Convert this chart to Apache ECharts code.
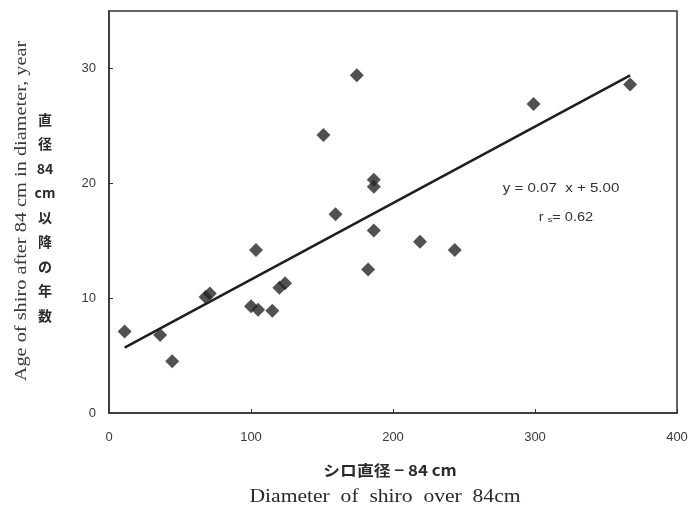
<!DOCTYPE html>
<html>
<head>
<meta charset="utf-8">
<script src="https://cdn.jsdelivr.net/npm/echarts@6/dist/echarts.min.js"></script>
<style>
  html, body { margin: 0; padding: 0; background: #fff; }
  #main { width: 700px; height: 515px; }
</style>
</head>
<body>
<div id="main"></div>
<script>
// シロ直径 - 84cm (x) と 直径84cm以降の年数 (y)
var diam = [11, 36, 44.5, 68, 71, 100, 105, 103.5, 115, 120, 124, 151, 159.5, 174.5, 182.5, 186.5, 186.5, 186.5, 219, 243.5, 299, 367];
var age  = [7.1, 6.8, 4.5, 10.1, 10.4, 9.3, 9.0, 14.2, 8.9, 10.9, 11.3, 24.2, 17.3, 29.4, 12.5, 20.3, 19.7, 15.9, 14.9, 14.2, 26.9, 28.6];

// 回帰直線の両端
var fitX = [11, 367];
var fitY = [5.7, 29.4];

var xTicks = [0, 100, 200, 300, 400];
var yTicks = [0, 10, 20, 30];

var pts = [];
for (var i = 0; i < diam.length; i++) {
    pts.push([diam[i], age[i]]);
}
var fit = [[fitX[0], fitY[0]], [fitX[1], fitY[1]]];

var myChart = echarts.init(document.getElementById('main'));

var option = {
    backgroundColor: '#fff',
    animation: false,
    grid: {
        left: 109, right: 23, top: 11, bottom: 102,
        show: true, borderColor: '#333', borderWidth: 1.5
    },
    xAxis: {
        type: 'value',
        min: 0, max: 400, interval: 100,
        axisLine: { show: true, lineStyle: { color: '#333', width: 1.5 } },
        axisTick: { show: true, inside: true, length: 4, lineStyle: { color: '#333' } },
        axisLabel: {
            color: '#3a3a3a', fontSize: 13, fontFamily: 'Liberation Sans', margin: 18,
            formatter: function (v) { return xTicks.indexOf(v) >= 0 ? String(v) : ''; }
        },
        splitLine: { show: false }
    },
    yAxis: {
        type: 'value',
        min: 0, max: 35, interval: 10,
        axisLine: { show: true, lineStyle: { color: '#333', width: 1.5 } },
        axisTick: { show: true, inside: true, length: 4, lineStyle: { color: '#333' } },
        axisLabel: {
            color: '#3a3a3a', fontSize: 13, fontFamily: 'Liberation Sans', margin: 13,
            showMaxLabel: false,
            formatter: function (v) { return yTicks.indexOf(v) >= 0 ? String(v) : ''; }
        },
        splitLine: { show: false }
    },
    series: [
        {
            type: 'scatter',
            data: pts,
            symbol: 'diamond',
            symbolSize: 14,
            itemStyle: { color: '#262626' },
            z: 3
        },
        {
            type: 'line',
            data: fit,
            symbol: 'none',
            lineStyle: { color: '#1e1e1e', width: 2.5 },
            z: 2
        }
    ],
    graphic: [
        {
            type: 'text', x: 561, y: 188, scaleX: 1.16,
            style: {
                text: 'y = 0.07  x + 5.00', fill: '#333', fontSize: 13, fontFamily: 'Liberation Sans',
                align: 'center', verticalAlign: 'middle'
            }
        },
        {
            type: 'text', x: 566, y: 217, scaleX: 1.12,
            style: {
                text: '{a|r }{b|s}{a|= 0.62}',
                align: 'center', verticalAlign: 'middle',
                rich: {
                    a: { fill: '#333', fontSize: 13, fontFamily: 'Liberation Sans' },
                    b: { fill: '#333', fontSize: 8, fontFamily: 'Liberation Sans', padding: [6, 0, 0, 0] }
                }
            }
        },
        {
            type: 'text', x: 390, y: 470, scaleX: 1.12,
            style: {
                text: 'シロ直径 − 84 cm', fill: '#2a2a2a', fontSize: 15, fontWeight: 'bold',
                fontFamily: 'Noto Sans CJK JP', align: 'center', verticalAlign: 'middle'
            }
        },
        {
            type: 'text', x: 385, y: 497, scaleX: 1.2,
            style: {
                text: 'Diameter  of  shiro  over  84cm', fill: '#2a2a2a', fontSize: 18,
                fontFamily: 'Liberation Serif', align: 'center', verticalAlign: 'middle'
            }
        },
        {
            type: 'text', x: 22, y: 211, rotation: Math.PI / 2, scaleX: 1.27,
            style: {
                text: 'Age of shiro after 84 cm in diameter, year',
                fill: '#3a3a3a', fontSize: 16, fontFamily: 'Liberation Serif',
                align: 'center', verticalAlign: 'middle'
            }
        },
        {
            type: 'text', x: 45, y: 107,
            style: {
                text: '直\n径\n84\ncm\n以\n降\nの\n年\n数',
                fill: '#2a2a2a', fontSize: 14, fontWeight: 'bold', fontFamily: 'Noto Sans CJK JP',
                align: 'center', verticalAlign: 'top', lineHeight: 24.5
            }
        }
    ]
};

myChart.setOption(option);
</script>
</body>
</html>
